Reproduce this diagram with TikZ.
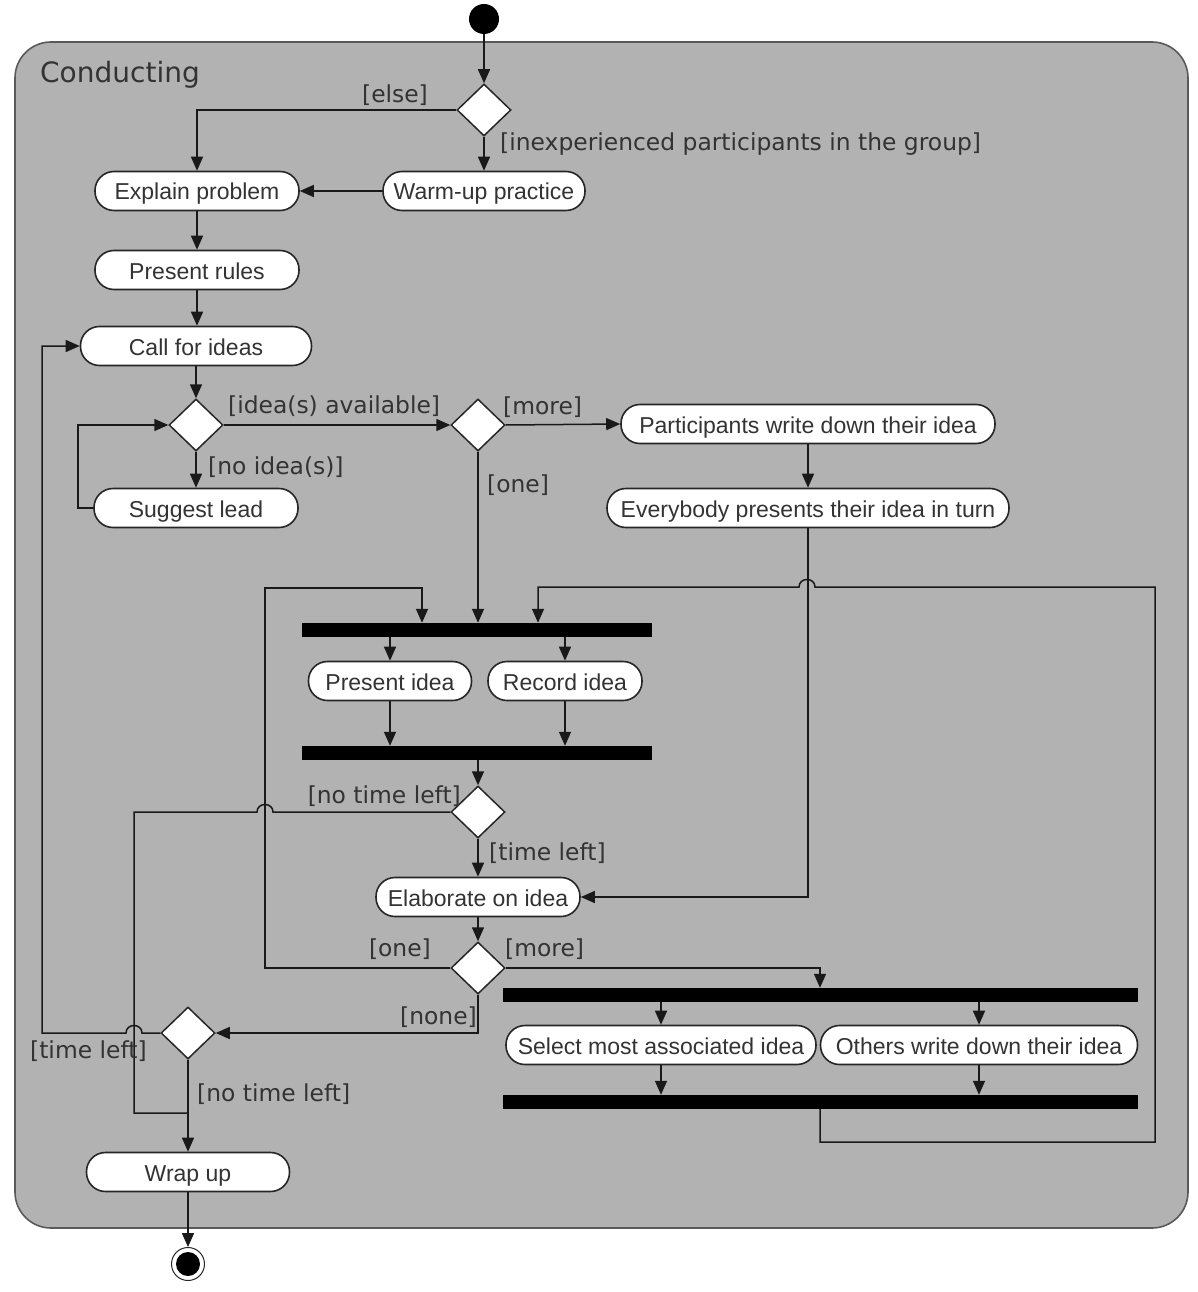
\documentclass[tikz,border=0pt]{standalone}
\usepackage{fontspec}
\newfontfamily\actfont{Liberation Sans}
\newfontfamily\grdfont{DejaVu Sans}
\usetikzlibrary{shapes.geometric,arrows.meta}
\definecolor{regionfill}{HTML}{B2B2B2}
\definecolor{inktext}{HTML}{333333}
\begin{document}
\begin{tikzpicture}[x=1pt,y=-1pt,
  flow/.style={draw=black!90, line width=1.5pt},
  arr/.style={flow, -{Triangle[length=14pt,width=12pt]}},
  act/.style={draw=black!85, line width=1.6pt, fill=white, rounded corners=19pt,
    minimum height=39pt, inner sep=0pt, text=inktext, text height=18pt, text depth=0pt,
    font=\actfont\fontsize{23}{27}\selectfont},
  dec/.style={diamond, draw=black!85, line width=1.5pt, fill=white,
    minimum width=54pt, minimum height=52pt, inner sep=0pt},
  forkbar/.style={fill=black, minimum height=14pt, inner sep=0pt},
  grd/.style={text=inktext, font=\grdfont\fontsize{23.4}{27}\selectfont, inner sep=0pt},
]
\useasboundingbox (0,0) rectangle (1198,1292);

% activity region
\node[draw=black!65, line width=1.6pt, fill=regionfill, rounded corners=36pt,
  minimum width=1173pt, minimum height=1186pt, inner sep=0pt] (region) at (601.5,635) {};
\node[anchor=west, text=inktext, font=\grdfont\fontsize{28}{32}\selectfont, inner sep=0pt] (title) at (40,75) {Conducting};

% initial and final states
\node[circle, fill=black, minimum size=30pt, inner sep=0pt] (start) at (484,19) {};
\node[circle, draw=black!85, line width=1pt, fill=white, minimum size=33pt, inner sep=0pt,
  path picture={\fill[black] (path picture bounding box.center) circle (12pt);}] (end) at (188,1264) {};

% decisions
\node[dec] (d1) at (484,110) {};
\node[dec] (d2) at (196,425) {};
\node[dec] (d3) at (478,425) {};
\node[dec] (d4) at (478,812) {};
\node[dec] (d6) at (478,968) {};
\node[dec] (d5) at (188,1033) {};

% actions
\node[act, minimum width=204pt] (explain) at (197,191) {Explain problem};
\node[act, minimum width=202pt] (warm) at (484,191) {Warm-up practice};
\node[act, minimum width=204pt] (rules) at (197,270) {Present rules};
\node[act, minimum width=231pt] (call) at (196,346) {Call for ideas};
\node[act, minimum width=204pt] (suggest) at (196,508) {Suggest lead};
\node[act, minimum width=374pt] (part) at (808,424) {Participants write down their idea};
\node[act, minimum width=402pt] (every) at (808,508) {Everybody presents their idea in turn};
\node[act, minimum width=163pt] (pidea) at (390,681) {Present idea};
\node[act, minimum width=154pt] (ridea) at (565,681) {Record idea};
\node[act, minimum width=204pt] (elab) at (478,897) {Elaborate on idea};
\node[act, minimum width=310pt] (select) at (661,1045) {Select most associated idea};
\node[act, minimum width=317pt] (others) at (979,1045) {Others write down their idea};
\node[act, minimum width=203pt] (wrap) at (188,1172) {Wrap up};

% fork / join bars
\node[forkbar, minimum width=350pt] (bar1) at (477,630) {};
\node[forkbar, minimum width=350pt] (bar2) at (477,753) {};
\node[forkbar, minimum width=635pt] (bar3) at (820.5,995) {};
\node[forkbar, minimum width=635pt] (bar4) at (820.5,1102) {};

% routing points
\coordinate (loopx) at (78,466);
\coordinate (c1) at (265,588);
\coordinate (c2) at (422,588);
\coordinate (c3) at (820,968);
\coordinate (c4) at (820,1142);
\coordinate (c5) at (1155,587);
\coordinate (c6) at (538,587);
\coordinate (c7) at (134,812);
\coordinate (c8) at (134,1113);
\coordinate (c9) at (42,1033);

% connectors
\draw[arr] (start) -- (d1.north);
\draw[arr] (d1.west) -| (explain.north);
\draw[arr] (d1.south) -- (warm.north);
\draw[arr] (warm.west) -- (explain.east);
\draw[arr] (explain.south) -- (rules.north);
\draw[arr] (rules.south) -- (call.north -| rules.south);
\draw[arr] (call.south) -- (d2.north);
\draw[arr] (d2.south) -- (suggest.north);
\draw[arr] (suggest.west) -- (suggest.west -| loopx) |- (d2.west);
\draw[arr] (d2.east) -- (d3.west);
\draw[arr] (d3.east) -- (part.west);
\draw[arr] (part.south) -- (every.north);
\draw[arr] (d3.south) -- (bar1.north -| d3.south);
\draw[arr] (bar1.south -| pidea) -- (pidea.north);
\draw[arr] (bar1.south -| ridea) -- (ridea.north);
\draw[arr] (pidea.south) -- (bar2.north -| pidea);
\draw[arr] (ridea.south) -- (bar2.north -| ridea);
\draw[arr] (bar2.south -| d4) -- (d4.north);
\draw[arr] (d4.south) -- (elab.north);
\draw[arr] (every.south) |- (elab.east);
\draw[arr] (elab.south) -- (d6.north);
\draw[arr] (d6.west) -| (c1) -| (bar1.north -| c2);
\draw[arr] (d6.east) -| (bar3.north -| c3);
\draw[arr] (bar3.south -| select) -- (select.north);
\draw[arr] (bar3.south -| others) -- (others.north);
\draw[arr] (select.south) -- (bar4.north -| select);
\draw[arr] (others.south) -- (bar4.north -| others);
\draw[arr] (bar4.south -| c4) -- (c4) -| (c5)
  -- (815,587) .. controls (815,577) and (799,577) .. (799,587)
  -| (bar1.north -| c6);
\draw[flow] (d4.west) -- (273,812) .. controls (273,802) and (257,802) .. (257,812)
  -- (c7) -- (c8) -- (c8 -| wrap);
\draw[arr] (d6.south) |- (d5.east);
\draw[arr] (d5.west) -- (142,1033) .. controls (142,1023) and (126,1023) .. (126,1033)
  -- (c9) |- (call.west);
\draw[arr] (d5.south) -- (wrap.north);
\draw[arr] (wrap.south) -- (end.north);

% guards
\node[grd] (g1) at (395,95) {[else]};
\node[grd, anchor=west] (g2) at (500,144) {[inexperienced participants in the group]};
\node[grd, anchor=west] (g3) at (228,406) {[idea(s) available]};
\node[grd, anchor=west] (g4) at (208,467) {[no idea(s)]};
\node[grd, anchor=west] (g5) at (503,407) {[more]};
\node[grd, anchor=west] (g6) at (487,485) {[one]};
\node[grd, anchor=east] (g7) at (461,796) {[no time left]};
\node[grd, anchor=west] (g8) at (489,853) {[time left]};
\node[grd, anchor=east] (g9) at (431,949) {[one]};
\node[grd, anchor=west] (g10) at (505,949) {[more]};
\node[grd, anchor=east] (g11) at (477,1017) {[none]};
\node[grd, anchor=west] (g12) at (30,1051) {[time left]};
\node[grd, anchor=west] (g13) at (197,1094) {[no time left]};
\end{tikzpicture}
\end{document}
